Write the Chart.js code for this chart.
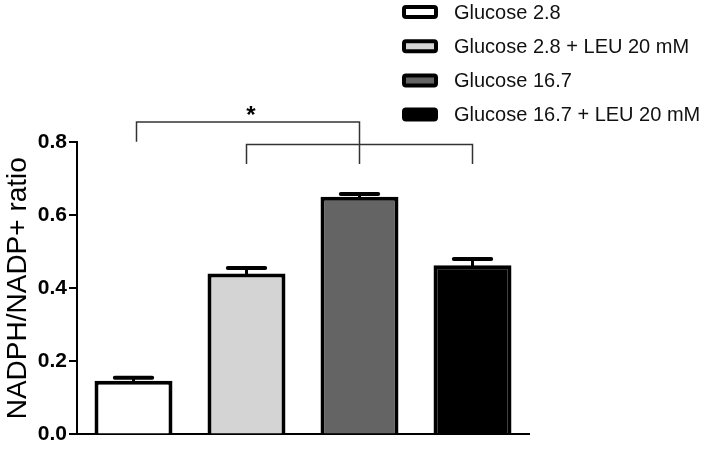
<!DOCTYPE html>
<html><head><meta charset="utf-8">
<script src="https://cdn.jsdelivr.net/npm/chart.js@4/dist/chart.umd.min.js"></script>
<style>html,body{margin:0;padding:0;background:#fff;} #wrap{width:714px;height:449px;position:relative;}</style>
</head><body><div id="wrap"><canvas id="c"></canvas></div>
<script>
const categories = ['Glucose 2.8', 'Glucose 2.8 + LEU 20 mM', 'Glucose 16.7', 'Glucose 16.7 + LEU 20 mM'];
const means = [0.147, 0.440, 0.650, 0.463];
const sem = [0.008, 0.015, 0.008, 0.017];
const barColors = ['#ffffff', '#d4d4d4', '#646464', '#000000'];
const yTicks = [0, 0.2, 0.4, 0.6, 0.8];
const comparisons = [[0, 2], [1, 3]];
const bracketLevels = [0.855, 0.793];
const bracketDrops = [[0.801, 0.740], [0.740, 0.740]];
const bracketLabels = ['*', ''];
const yTitle = 'NADPH/NADP+ ratio';

const FONT = "'Liberation Sans', Arial, Helvetica, sans-serif";

const errorBars = {
  id: 'errorBars',
  afterDatasetsDraw(chart) {
    const {ctx, scales: {y}} = chart;
    const meta = chart.getDatasetMeta(0);
    ctx.save();
    ctx.strokeStyle = '#000';
    meta.data.forEach((bar, i) => {
      const cx = bar.x;
      const top = y.getPixelForValue(means[i] + sem[i]);
      const base = y.getPixelForValue(means[i]);
      const capW = bar.width * 0.53;
      ctx.lineWidth = 3; ctx.lineCap = 'butt';
      ctx.beginPath(); ctx.moveTo(cx, base + 2); ctx.lineTo(cx, top); ctx.stroke();
      ctx.lineWidth = 4; ctx.lineCap = 'round';
      ctx.beginPath(); ctx.moveTo(cx - capW / 2 + 2, top); ctx.lineTo(cx + capW / 2 - 2, top); ctx.stroke();
    });
    ctx.restore();
  }
};

const brackets = {
  id: 'brackets',
  afterDraw(chart) {
    const {ctx, scales: {x, y}} = chart;
    ctx.save();
    ctx.strokeStyle = '#333';
    ctx.lineWidth = 1.5;
    comparisons.forEach((pair, k) => {
      const x1 = x.getPixelForValue(pair[0]) + (k === 0 ? 3 : 0);
      const x2 = x.getPixelForValue(pair[1]);
      const yl = y.getPixelForValue(bracketLevels[k]);
      const d1 = y.getPixelForValue(bracketDrops[k][0]);
      const d2 = y.getPixelForValue(bracketDrops[k][1]);
      ctx.beginPath();
      ctx.moveTo(x1, d1); ctx.lineTo(x1, yl); ctx.lineTo(x2, yl); ctx.lineTo(x2, d2);
      ctx.stroke();
      if (bracketLabels[k]) {
        ctx.fillStyle = '#000';
        ctx.font = 'bold 24px ' + FONT;
        ctx.textAlign = 'center';
        ctx.textBaseline = 'middle';
        ctx.fillText(bracketLabels[k], (x1 + x2) / 2 + 3, yl - 6);
      }
    });
    ctx.restore();
  }
};

const boxLegend = {
  id: 'boxLegend',
  afterDraw(chart) {
    const ctx = chart.ctx;
    ctx.save();
    const bx = 402, bw = 36, bh = 14, tx = 454, y0 = 12, dy = 34.2;
    categories.forEach((label, i) => {
      const cy = y0 + i * dy;
      ctx.fillStyle = barColors[i];
      ctx.strokeStyle = '#000';
      ctx.lineWidth = 4;
      ctx.lineJoin = 'round';
      ctx.beginPath();
      ctx.roundRect(bx + 2, cy - bh / 2 + 2, bw - 4, bh - 4, 2);
      ctx.fill(); ctx.stroke();
      ctx.fillStyle = '#111';
      ctx.font = '20px ' + FONT;
      ctx.textAlign = 'left';
      ctx.textBaseline = 'middle';
      ctx.fillText(label, tx, cy + 1);
    });
    ctx.restore();
  }
};

new Chart(document.getElementById('c'), {
  type: 'bar',
  data: {
    labels: categories,
    datasets: [{
      data: means,
      backgroundColor: barColors,
      borderColor: '#000',
      borderWidth: 4,
      borderSkipped: 'start',
      categoryPercentage: 1,
      barPercentage: 0.69
    }]
  },
  options: {
    responsive: true,
    maintainAspectRatio: false,
    animation: false,
    devicePixelRatio: 1,
    layout: {padding: {left: 0, top: 142, right: 185, bottom: 11}},
    plugins: {legend: {display: false}, tooltip: {enabled: false}},
    scales: {
      x: {
        ticks: {display: false},
        grid: {display: false, drawTicks: false},
        border: {display: true, color: '#000', width: 2}
      },
      y: {
        min: 0, max: 0.8,
        afterBuildTicks(scale) { scale.ticks = yTicks.map(v => ({value: v})); },
        afterFit(scale) { scale.width = 77; },
        ticks: {
          color: '#000',
          padding: 2,
          font: {family: FONT, size: 21, weight: 'bold'},
          callback: v => Number(v).toFixed(1)
        },
        grid: {display: true, drawOnChartArea: false, drawTicks: true, tickLength: 8, color: '#000', lineWidth: 2},
        border: {display: true, color: '#000', width: 2},
        title: {display: true, text: yTitle, color: '#000', font: {family: FONT, size: 28}, padding: {top: 1, bottom: 0}}
      }
    }
  },
  plugins: [errorBars, brackets, boxLegend]
});
</script></body></html>
